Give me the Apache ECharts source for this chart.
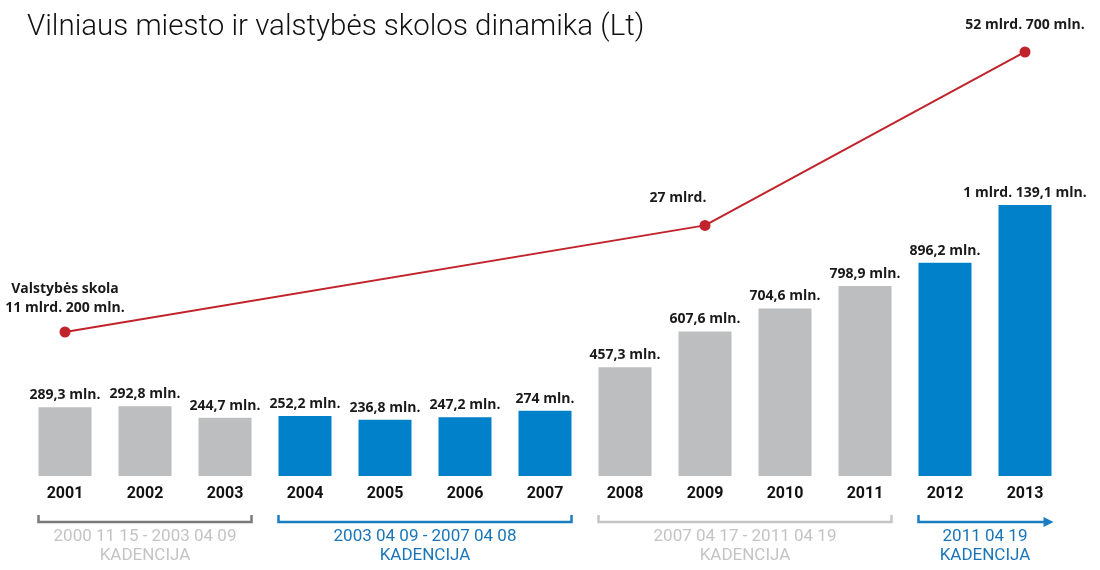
<!DOCTYPE html>
<html>
<head>
<meta charset="utf-8">
<script src="https://cdn.jsdelivr.net/npm/echarts@6/dist/echarts.min.js"></script>
<style>
html, body { margin: 0; padding: 0; background: #fff; }
#chart { width: 1100px; height: 570px; }
</style>
</head>
<body>
<div id="chart"></div>
<script>
// metai ir Vilniaus miesto skola (mln. Lt)
var years = ['2001', '2002', '2003', '2004', '2005', '2006', '2007', '2008', '2009', '2010', '2011', '2012', '2013'];
var cityDebt = [289.3, 292.8, 244.7, 252.2, 236.8, 247.2, 274, 457.3, 607.6, 704.6, 798.9, 896.2, 1139.1];
// kuriai kadencijai priklauso metai
var yearTerm = [0, 0, 0, 1, 1, 1, 1, 2, 2, 2, 2, 3, 3];
// valstybes skola (mln. Lt), tik keli taskai
var stateDebt = [11200, null, null, null, null, null, null, null, 27000, null, null, null, 52700];
// kadencijos
var termLabels = ['2000 11 15 - 2003 04 09', '2003 04 09 - 2007 04 08', '2007 04 17 - 2011 04 19', '2011 04 19'];
var termStart = ['2001', '2004', '2008', '2012'];
var termEnd = ['2003', '2007', '2011', '2013'];

var FONT = 'Roboto';
var LABEL_FONT = 'Open Sans';
var GRAY = '#bcbec0';
var BLUE = '#0081c9';
var RED = '#c1232b';
var BAR_W = 53;

function fmtMln(v) {
    if (v >= 1000) {
        var rest = (v % 1000).toFixed(1).replace('.', ',');
        return Math.floor(v / 1000) + ' mlrd. ' + rest + ' mln.';
    }
    return String(v).replace('.', ',') + ' mln.';
}
function fmtState(v) {
    var mlrd = Math.floor(v / 1000);
    var mln = Math.round(v % 1000);
    return mlrd + ' mlrd.' + (mln ? ' ' + mln + ' mln.' : '');
}

var myChart = echarts.init(document.getElementById('chart'));

var barData = cityDebt.map(function (v, i) {
    return {
        value: v,
        itemStyle: { color: yearTerm[i] % 2 === 0 ? GRAY : BLUE }
    };
});

var lineData = stateDebt.map(function (v, i) {
    if (v === null) return null;
    var item = { value: v };
    if (i === 0) {
        item.label = { distance: 9, formatter: function (p) { return 'Valstybės skola\n' + fmtState(p.value); } };
    }
    if (i === 8) {
        item.label = { offset: [-27, 0] };
    }
    return item;
});

var option = {
    animation: false,
    title: {
        text: 'Vilniaus miesto ir valstybės skolos dinamika (Lt)',
        left: 22,
        top: 8,
        textStyle: {
            fontFamily: FONT,
            fontSize: 29.5,
            fontWeight: 300,
            color: '#111'
        }
    },
    grid: {
        left: 25,
        right: 35,
        top: 40,
        bottom: 94,
        containLabel: false
    },
    xAxis: {
        type: 'category',
        data: years,
        axisLine: { show: false },
        axisTick: { show: false },
        splitLine: { show: false },
        axisLabel: {
            margin: 10,
            fontFamily: FONT,
            fontSize: 16,
            fontWeight: 'bold',
            color: '#111'
        }
    },
    yAxis: [
        { type: 'value', min: 0, max: 1833, show: false, splitLine: { show: false } },
        { type: 'value', min: -10145, max: 54477, show: false, splitLine: { show: false } }
    ],
    series: [
        {
            name: 'Vilniaus skola',
            type: 'bar',
            barWidth: BAR_W,
            data: barData,
            label: {
                show: true,
                position: 'top',
                distance: 5,
                fontFamily: LABEL_FONT,
                fontSize: 14,
                fontWeight: 'bold',
                color: '#1a1a1a',
                formatter: function (p) { return fmtMln(p.value); }
            }
        },
        {
            name: 'Valstybės skola',
            type: 'line',
            yAxisIndex: 1,
            data: lineData,
            connectNulls: true,
            symbol: 'circle',
            symbolSize: 11,
            itemStyle: { color: RED },
            lineStyle: { color: RED, width: 2 },
            label: {
                show: true,
                position: 'top',
                distance: 12,
                fontFamily: LABEL_FONT,
                fontSize: 14,
                fontWeight: 'bold',
                lineHeight: 19,
                color: '#1a1a1a',
                formatter: function (p) { return fmtState(p.value); }
            }
        }
    ]
};
myChart.setOption(option);

// kadenciju skliaustai po metais
var termLine = ['#7a7a7a', '#1a7dc1', '#c4c4c4', '#1a7dc1'];
var termText = ['#c4c4c4', '#1a75b8', '#c4c4c4', '#1a75b8'];
var graphics = [];
var yLine = 522, yTick = 515;
for (var t = 0; t < termLabels.length; t++) {
    var x1 = myChart.convertToPixel({ xAxisIndex: 0 }, termStart[t]) - BAR_W / 2;
    var x2 = myChart.convertToPixel({ xAxisIndex: 0 }, termEnd[t]) + BAR_W / 2;
    var last = t === termLabels.length - 1;
    var pts = last ? [[x1, yTick], [x1, yLine], [x2 - 2, yLine]] : [[x1, yTick], [x1, yLine], [x2, yLine], [x2, yTick]];
    graphics.push({
        type: 'polyline',
        shape: { points: pts },
        style: { stroke: termLine[t], lineWidth: 2.5, fill: null }
    });
    if (last) {
        graphics.push({
            type: 'polygon',
            shape: { points: [[x2 - 8, yLine - 5], [x2 + 2, yLine], [x2 - 8, yLine + 5]] },
            style: { fill: termLine[t] }
        });
    }
    graphics.push({
        type: 'text',
        x: (x1 + x2) / 2,
        y: 527,
        style: {
            text: termLabels[t] + '\nKADENCIJA',
            textAlign: 'center',
            textVerticalAlign: 'top',
            fontFamily: FONT,
            fontSize: 17,
            lineHeight: 19,
            fill: termText[t]
        }
    });
}
myChart.setOption({ graphic: graphics });
</script>
</body>
</html>
